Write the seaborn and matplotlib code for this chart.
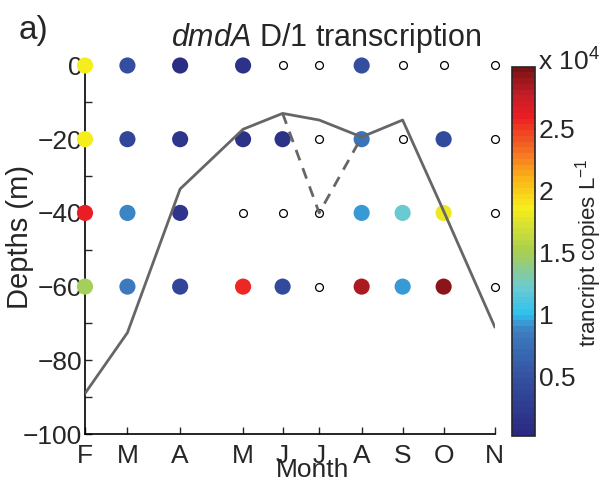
import numpy as np
import pandas as pd
import seaborn as sns
import matplotlib.pyplot as plt
import matplotlib as mpl
from matplotlib.colors import LinearSegmentedColormap, Normalize

# ---------------- data ----------------
months = ['F', 'M', 'A', 'M', 'J', 'J', 'A', 'S', 'O', 'N']
sample_day = [36, 65, 101, 144, 171, 196, 225, 253, 281, 316]
depths = [0, -20, -40, -60]
nan = np.nan
# transcript copies per L, in units of 10^4
dmda_0m = [1.85, 0.45, 0.10, 0.12, nan, nan, 0.45, nan, nan, nan]
dmda_20m = [1.85, 0.35, 0.20, 0.15, 0.12, nan, 0.80, nan, 0.40, nan]
dmda_40m = [2.60, 0.90, 0.20, nan, nan, nan, 0.95, 1.20, 1.80, nan]
dmda_60m = [1.50, 0.85, 0.35, 2.55, 0.40, nan, 2.85, 0.95, 2.95, nan]
# mixed layer depth
mld = [-89, -72.5, -33.5, -17.3, -13, -14.8, -19.4, -14.8, -39.5, -71]
mld_alt_day = [171, 196, 225]
mld_alt = [-13, -40, -19.4]

cbar_min, cbar_max = 0.02, 3.0

rows = []
for d, vals in zip(depths, [dmda_0m, dmda_20m, dmda_40m, dmda_60m]):
    for day, v in zip(sample_day, vals):
        rows.append({'day': day, 'depth': d, 'copies': v})
df = pd.DataFrame(rows)
have = df[df['copies'].notna()]
missing = df[df['copies'].isna()]

# print-style jet
cmap = LinearSegmentedColormap.from_list('jetprint', [
    (0.00, '#2a2a82'), (0.15, '#3450a0'), (0.28, '#3d7cc0'),
    (0.33, '#2fc2f0'), (0.40, '#6ccad0'), (0.50, '#a8cf50'),
    (0.62, '#f7ed1c'), (0.70, '#fbb31a'), (0.77, '#f47522'),
    (0.87, '#ec1c24'), (0.93, '#c41e26'), (1.00, '#7a1315')], N=64)
norm = Normalize(cbar_min, cbar_max)

sns.set_style('white')
plt.rcParams['font.family'] = ['Liberation Sans', 'DejaVu Sans']
plt.rcParams['mathtext.fontset'] = 'custom'
plt.rcParams['mathtext.rm'] = 'Liberation Sans'
plt.rcParams['mathtext.it'] = 'Liberation Sans:italic'

fig = plt.figure(figsize=(6.01, 4.83), dpi=100)
ax = fig.add_axes([0.1414, 0.1014, 0.682, 0.763])
cax = fig.add_axes([0.852, 0.098, 0.038, 0.764])

sns.scatterplot(data=have, x='day', y='depth', hue='copies', palette=cmap,
                hue_norm=norm, s=135, linewidth=0, legend=False,
                clip_on=False, zorder=3, ax=ax)
sns.scatterplot(data=missing, x='day', y='depth', s=32, facecolor='white',
                edgecolor='black', linewidth=0.9, clip_on=False, zorder=3, ax=ax)
sns.lineplot(x=sample_day, y=mld, color='#666666', lw=2, sort=False,
             estimator=None, zorder=4, ax=ax)
sns.lineplot(x=mld_alt_day, y=mld_alt, color='#666666', lw=2, sort=False,
             estimator=None, zorder=4, ax=ax, linestyle=(0, (4, 3)))

ax.set_xlim(sample_day[0], sample_day[-1])
ax.set_ylim(-100, 0)
ax.set_xticks(sample_day)
ax.set_xticklabels(months)
ax.set_yticks(np.arange(-100, 1, 20))
ax.set_yticks(np.arange(-90, 0, 20), minor=True)
for s in ['top', 'right']:
    ax.spines[s].set_visible(False)
for s in ['left', 'bottom']:
    ax.spines[s].set_color('black')
    ax.spines[s].set_linewidth(1.2)
ax.tick_params(which='both', direction='in', length=5, width=1,
               labelsize=19, left=True, bottom=True)
ax.tick_params(axis='y', pad=2)
ax.tick_params(axis='x', pad=7)
ax.set_xlabel('Month', fontsize=19)
ax.xaxis.set_label_coords(0.555, -0.064)
ax.set_ylabel('Depths (m)', fontsize=21)
ax.yaxis.set_label_coords(-0.125, 0.534)
fig.text(0.542, 0.921, r'$\it{dmdA}$ D/1 transcription', fontsize=22,
         ha='center', va='center')
fig.text(0.031, 0.936, 'a)', fontsize=24, va='center')

sm = mpl.cm.ScalarMappable(norm=norm, cmap=cmap)
cb = fig.colorbar(sm, cax=cax)
cb.set_ticks([0.5, 1, 1.5, 2, 2.5])
cb.set_ticklabels(['0.5', '1', '1.5', '2', '2.5'])
cb.outline.set_linewidth(1.2)
cax.tick_params(direction='in', length=4, width=1, labelsize=19, pad=3,
                left=True, right=True)
cb.set_label('trancript copies L$^{-1}$', fontsize=16)
cax.yaxis.set_label_coords(2.68, 0.495)
fig.text(0.895, 0.872, r'x 10$^4$', fontsize=19, va='center')

fig.savefig('out.png', dpi=100)
